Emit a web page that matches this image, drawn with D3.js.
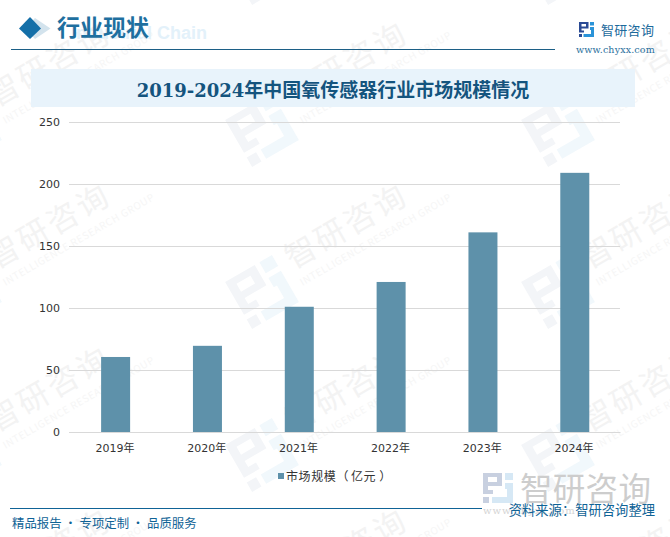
<!DOCTYPE html>
<html>
<head>
<meta charset="utf-8">
<script src="https://cdn.jsdelivr.net/npm/d3@7"></script>
<style>
html, body { margin: 0; padding: 0; background: #fff; }
svg { display: block; }
text { font-family: "Noto Sans CJK SC", sans-serif; }
.axis text { font-family: "DejaVu Sans", "Noto Sans CJK SC", sans-serif; font-size: 11px; fill: #333; }
</style>
</head>
<body>
<div id="chart"></div>
<script>
// data
const categories = ['2019年', '2020年', '2021年', '2022年', '2023年', '2024年'];
const marketSize = [60.5, 69.5, 101, 121, 161, 209];
const yTicks = [0, 50, 100, 150, 200, 250];
const titleYears = '2019-2024';
const titleRest = '年中国氧传感器行业市场规模情况';

// watermark logo anchors
const wmX = [-35, 262, 558];
const wmY = [-32, 130, 292, 455, 617];

const width = 670, height = 537;
const margin = {top: 122, right: 50, bottom: 105, left: 69};

const svg = d3.select('#chart').append('svg')
    .attr('width', width).attr('height', height);

// logo mark: two interlocked halves, 30x30 box
function drawLogo(g, dark, light) {
    g.append('path').attr('fill', dark)
        .attr('d', 'M0 0H19V4H5V9H14V4H19V13H5V17H10V21H0Z M0 24H6V30H0Z');
    g.append('path').attr('fill', light)
        .attr('d', 'M22 0H30V7H22Z M22 10H30V30H9V24H24V16H22Z');
}

// faint repeated watermark
const wm = svg.append('g').attr('class', 'watermark');
wmX.forEach(x => wmY.forEach(y => {
    const g = wm.append('g').attr('transform', `translate(${x},${y}) rotate(-30)`);
    drawLogo(g.append('g').attr('transform', 'translate(-27,-27) scale(1.8)'), '#f3f5f8', '#f1f8fc');
    g.append('text').attr('x', 38).attr('y', -4)
        .attr('font-size', 31).attr('letter-spacing', 3).attr('fill', '#f3f3f3')
        .text('智研咨询');
    g.append('text').attr('x', 38).attr('y', 15)
        .attr('font-size', 10).attr('letter-spacing', 0.6).attr('fill', '#f6f6f6')
        .text('INTELLIGENCE RESEARCH GROUP');
}));

// header
svg.append('text').attr('x', 207).attr('y', 39).attr('text-anchor', 'end')
    .attr('font-size', 18).attr('font-weight', 'bold').attr('fill', '#e3f1fa')
    .style('font-family', 'Liberation Sans')
    .text('Industrial Chain');
svg.append('path').attr('fill', '#d3e3ed').attr('d', 'M35 18L50.5 28.5L35 39L25 28.5Z');
svg.append('path').attr('fill', '#146fa8').attr('d', 'M30 17L41 28.5L30 39L19 28.5Z');
svg.append('text').attr('x', 57).attr('y', 36)
    .attr('font-size', 23).attr('font-weight', 'bold').attr('fill', '#1e6f9f')
    .text('行业现状');
svg.append('line').attr('x1', 11).attr('x2', 555).attr('y1', 49.5).attr('y2', 49.5)
    .attr('stroke', '#1c5f86').attr('stroke-width', 1);

// top right brand
drawLogo(svg.append('g').attr('transform', 'translate(579,22) scale(0.5)'), '#2a4a94', '#2a93d8');
svg.append('text').attr('x', 601).attr('y', 35)
    .attr('font-size', 13).attr('letter-spacing', 0.3).attr('fill', '#1c6a9c').text('智研咨询');
svg.append('text').attr('x', 576).attr('y', 53)
    .style('font-family', 'DejaVu Serif').attr('font-size', 9.5).attr('fill', '#2a6f9c')
    .attr('letter-spacing', 0.15).text('www.chyxx.com');

// title band
svg.append('rect').attr('x', 31).attr('y', 69).attr('width', 604).attr('height', 38)
    .attr('fill', '#e8f3fb');
const title = svg.append('text').attr('x', 333).attr('y', 97).attr('text-anchor', 'middle')
    .attr('font-size', 19).attr('font-weight', 'bold').attr('fill', '#14547e');
title.append('tspan').style('font-family', 'DejaVu Serif').attr('font-size', 18).text(titleYears);
title.append('tspan').text(titleRest);

// chart
const x = d3.scaleBand().domain(categories)
    .range([margin.left, width - margin.right]);
const y = d3.scaleLinear().domain([0, 250])
    .range([height - margin.bottom, margin.top]);

const yAxis = svg.append('g').attr('class', 'axis')
    .attr('transform', `translate(${margin.left},0)`)
    .call(d3.axisLeft(y).tickValues(yTicks).tickSize(-(width - margin.left - margin.right)).tickPadding(9));
yAxis.select('.domain').remove();
yAxis.selectAll('.tick line').attr('stroke', '#d9d9d9');

const xAxis = svg.append('g').attr('class', 'axis')
    .attr('transform', `translate(0,${height - margin.bottom})`)
    .call(d3.axisBottom(x).tickSize(0).tickPadding(12));
xAxis.select('.domain').attr('stroke', '#d9d9d9');

const barWidth = 29;
svg.selectAll('.bar')
    .data(marketSize)
    .enter().append('rect')
    .attr('class', 'bar')
    .attr('x', (d, i) => x(categories[i]) + x.bandwidth() / 2 - barWidth / 2 + 0.7)
    .attr('y', d => y(d))
    .attr('width', barWidth)
    .attr('height', d => y(0) - y(d))
    .attr('fill', '#5e91aa');

// legend
svg.append('rect').attr('x', 278).attr('y', 473).attr('width', 6).attr('height', 6).attr('fill', '#5e91aa');
const legend = svg.append('text').attr('x', 286).attr('y', 481)
    .attr('font-size', 12).attr('letter-spacing', 0.6).attr('fill', '#333');
legend.append('tspan').text('市场规模（');
legend.append('tspan').attr('dx', 2).text('亿元');
legend.append('tspan').attr('dx', 3).text('）');

// bottom brand watermark
drawLogo(svg.append('g').attr('transform', 'translate(483,473)'), '#c8d0e0', '#d6e8f5');
svg.append('text').attr('x', 520).attr('y', 501)
    .attr('font-size', 32.5).attr('letter-spacing', 0.3).attr('fill', '#cdcdcd').text('智研咨询');
svg.append('text').attr('x', 483).attr('y', 514)
    .style('font-family', 'DejaVu Serif').attr('font-size', 10).attr('letter-spacing', 0.9).attr('fill', '#d4d4d4')
    .text('www.chyxx.com');

// footer
svg.append('line').attr('x1', 10).attr('x2', 482).attr('y1', 508.5).attr('y2', 508.5)
    .attr('stroke', '#0f6396').attr('stroke-width', 1);
svg.append('text').attr('x', 12).attr('y', 528)
    .attr('font-size', 12.4).attr('fill', '#0f6396').text('精品报告 · 专项定制 · 品质服务');
svg.append('text').attr('x', 655).attr('y', 515).attr('text-anchor', 'end')
    .attr('font-size', 13.3).attr('fill', '#0f6396').text('资料来源：智研咨询整理');
</script>
</body>
</html>
